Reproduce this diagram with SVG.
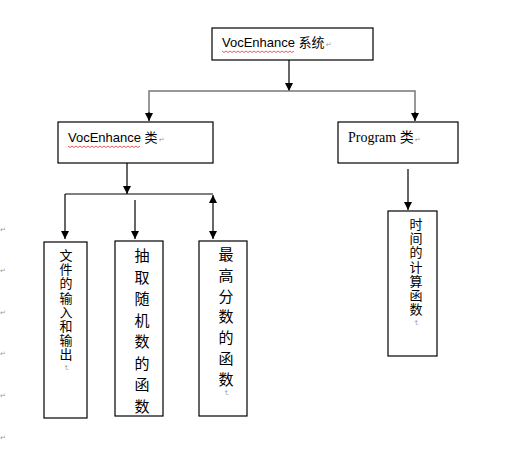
<svg xmlns="http://www.w3.org/2000/svg" width="514" height="453" viewBox="0 0 514 453">
<style>
.box{fill:#fff;stroke:#000;stroke-width:1.2}
.ln{stroke:#000;stroke-width:1.2;fill:none}
.gl{stroke:#777;stroke-width:1.5;fill:none}
.t{font-family:"Liberation Sans","Noto Sans CJK SC",sans-serif;font-size:13px;fill:#000}
.ts{font-family:"Liberation Serif","Noto Sans CJK SC",serif;font-size:14px;fill:#000}
.v{font-family:"Noto Sans CJK SC",sans-serif;font-size:15px;fill:#000;text-anchor:middle}
.vs{font-family:"Noto Sans CJK SC",sans-serif;font-size:13px;fill:#000;text-anchor:middle}
.pm{font-family:"DejaVu Sans",sans-serif;font-size:7px;fill:#999}
.sq{stroke:#d33;stroke-width:0.8;fill:none}
</style>
<defs>
<marker id="ah" viewBox="0 0 8 8" refX="8" refY="4" markerWidth="8" markerHeight="8" markerUnits="userSpaceOnUse" orient="auto-start-reverse">
<path d="M0,0 L8,4 L0,8 z" fill="#000"/>
</marker>
</defs>
<rect width="514" height="453" fill="#fff"/>

<g id="connectors">
<line class="ln" x1="289" y1="60" x2="289" y2="91" marker-end="url(#ah)"/>
<polyline class="gl" points="149,120 149,91 415,91 415,120"/>
<line class="ln" x1="149" y1="112" x2="149" y2="121" marker-end="url(#ah)"/>
<line class="ln" x1="415" y1="112" x2="415" y2="121" marker-end="url(#ah)"/>
<line class="ln" x1="127" y1="163" x2="127" y2="194" marker-end="url(#ah)"/>
<line class="ln" x1="65" y1="194" x2="213" y2="194"/>
<line class="ln" x1="65" y1="194" x2="65" y2="239" marker-end="url(#ah)"/>
<line class="ln" x1="135" y1="200" x2="135" y2="239" marker-end="url(#ah)"/>
<line class="ln" x1="213" y1="195" x2="213" y2="239" marker-start="url(#ah)" marker-end="url(#ah)"/>
<line class="ln" x1="408" y1="169" x2="408" y2="210" marker-end="url(#ah)"/>
</g>

<g id="node-system">
<rect class="box" x="212" y="28" width="161" height="32"/>
<text class="t" x="222" y="47">VocEnhance 系统<tspan class="pm" dx="1">↵</tspan></text>
<path class="sq" d="M222,51 l2,1.5 l2,-1.5 l2,1.5 l2,-1.5 l2,1.5 l2,-1.5 l2,1.5 l2,-1.5 l2,1.5 l2,-1.5 l2,1.5 l2,-1.5 l2,1.5 l2,-1.5 l2,1.5 l2,-1.5 l2,1.5 l2,-1.5 l2,1.5 l2,-1.5 l2,1.5 l2,-1.5 l2,1.5 l2,-1.5 l2,1.5 l2,-1.5 l2,1.5 l2,-1.5 l2,1.5 l2,-1.5 l2,1.5 l2,-1.5 l2,1.5 l2,-1.5 l2,1.5 l2,-1.5"/>
</g>

<g id="node-vocenhance">
<rect class="box" x="58" y="122" width="155" height="41"/>
<text class="t" x="68" y="142">VocEnhance 类<tspan class="pm" dx="1">↵</tspan></text>
<path class="sq" d="M68,146 l2,1.5 l2,-1.5 l2,1.5 l2,-1.5 l2,1.5 l2,-1.5 l2,1.5 l2,-1.5 l2,1.5 l2,-1.5 l2,1.5 l2,-1.5 l2,1.5 l2,-1.5 l2,1.5 l2,-1.5 l2,1.5 l2,-1.5 l2,1.5 l2,-1.5 l2,1.5 l2,-1.5 l2,1.5 l2,-1.5 l2,1.5 l2,-1.5 l2,1.5 l2,-1.5 l2,1.5 l2,-1.5 l2,1.5 l2,-1.5 l2,1.5 l2,-1.5 l2,1.5 l2,-1.5"/>
</g>

<g id="node-program">
<rect class="box" x="338" y="122" width="120" height="41"/>
<text class="ts" x="348" y="142">Program 类<tspan class="pm" dx="1">↵</tspan></text>
</g>

<g id="node-fileio">
<rect class="box" x="44" y="242" width="43" height="176"/>
<text class="vs" x="66" y="260">文<tspan x="66" dy="14.2">件</tspan><tspan x="66" dy="14.2">的</tspan><tspan x="66" dy="14.2">输</tspan><tspan x="66" dy="14.2">入</tspan><tspan x="66" dy="14.2">和</tspan><tspan x="66" dy="14.2">输</tspan><tspan x="66" dy="14.2">出</tspan></text>
<text class="pm" x="66" y="370" text-anchor="middle" transform="rotate(90 66 368)">↵</text>
</g>

<g id="node-random">
<rect class="box" x="115" y="241" width="48" height="175"/>
<text class="v" x="142" y="261">抽<tspan x="142" dy="21.5">取</tspan><tspan x="142" dy="21.5">随</tspan><tspan x="142" dy="21.5">机</tspan><tspan x="142" dy="21.5">数</tspan><tspan x="142" dy="21.5">的</tspan><tspan x="142" dy="21.5">函</tspan><tspan x="142" dy="21.5">数</tspan></text>
</g>

<g id="node-highscore">
<rect class="box" x="199" y="241" width="48" height="175"/>
<text class="v" x="226" y="260">最<tspan x="226" dy="20.8">高</tspan><tspan x="226" dy="20.8">分</tspan><tspan x="226" dy="20.8">数</tspan><tspan x="226" dy="20.8">的</tspan><tspan x="226" dy="20.8">函</tspan><tspan x="226" dy="20.8">数</tspan></text>
<text class="pm" x="226" y="395" text-anchor="middle" transform="rotate(90 226 393)">↵</text>
</g>

<g id="node-time">
<rect class="box" x="388" y="211" width="49" height="145"/>
<text class="vs" x="416" y="229">时<tspan x="416" dy="14.2">间</tspan><tspan x="416" dy="14.2">的</tspan><tspan x="416" dy="14.2">计</tspan><tspan x="416" dy="14.2">算</tspan><tspan x="416" dy="14.2">函</tspan><tspan x="416" dy="14.2">数</tspan></text>
<text class="pm" x="416" y="325" text-anchor="middle" transform="rotate(90 416 323)">↵</text>
</g>

<g id="margin-marks" class="pm">
<text x="0" y="232">↵</text>
<text x="0" y="273">↵</text>
<text x="0" y="315">↵</text>
<text x="0" y="356">↵</text>
<text x="0" y="398">↵</text>
<text x="0" y="440">↵</text>
</g>
</svg>
